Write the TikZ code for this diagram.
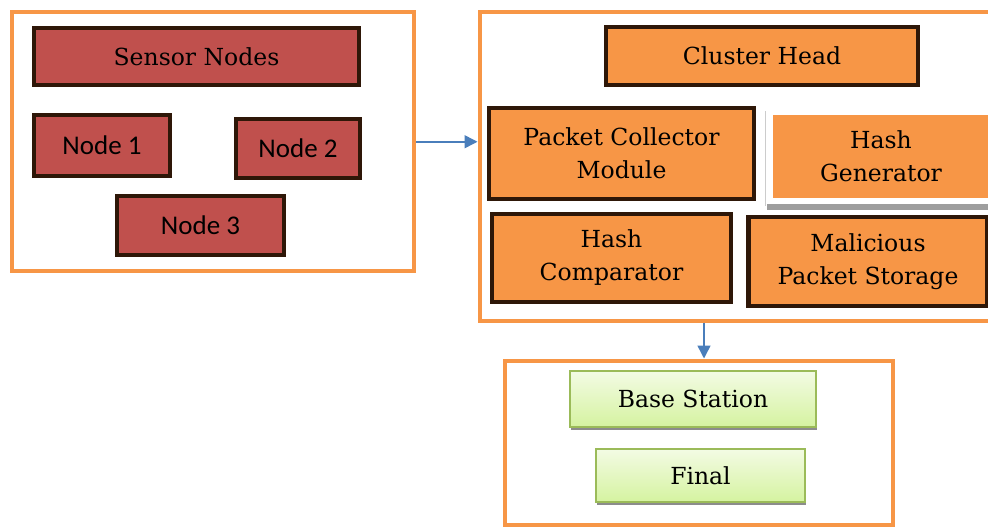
\documentclass[tikz,border=0pt]{standalone}
\usepackage{fontspec}
\newfontfamily\bkfont{DejaVu Serif}
\newfontfamily\calfont{Carlito}
\usetikzlibrary{arrows.meta,shadows}
\definecolor{orng}{HTML}{F79646}
\definecolor{redf}{HTML}{C0504D}
\definecolor{dbrown}{HTML}{2E1708}
\definecolor{arblue}{HTML}{4A7EBB}
\definecolor{grnb}{HTML}{9BBB59}
\definecolor{grnt}{HTML}{F3FBE4}
\definecolor{grnbt}{HTML}{D5F3A0}
\begin{document}
\begin{tikzpicture}[x=1pt,y=-1pt,
 frame/.style={draw=orng,line width=4pt,inner sep=0pt,fill=white},
 redbox/.style={draw=dbrown,line width=4.5pt,fill=redf,inner sep=0pt,font=\calfont\fontsize{27}{30}\selectfont},
 orbox/.style={draw=dbrown,line width=4.5pt,fill=orng,inner sep=0pt,align=center,font=\bkfont\fontsize{23.5}{33}\selectfont},
 plainor/.style={fill=orng,inner sep=0pt,align=center,font=\bkfont\fontsize{23.5}{33}\selectfont},
 grbox/.style={draw=grnb,line width=1.5pt,top color=grnt,bottom color=grnbt,inner sep=0pt,font=\bkfont\fontsize{23.5}{33}\selectfont,
   drop shadow={shadow xshift=1pt,shadow yshift=-3pt,fill=black!45,opacity=1}},
 conn/.style={draw=arblue,line width=1.5pt,-{Triangle[length=13pt,width=13pt]}}
]
\useasboundingbox (0,0) rectangle (988,527);
\clip (0,0) rectangle (988,527);
\fill[white] (0,0) rectangle (988,527);

% outer frames
\node[frame,minimum width=402pt,minimum height=258.5pt] (leftbox) at (213,141.75) {};
\node[frame,minimum width=540.5pt,minimum height=308pt] (rightbox) at (749.75,166.5) {};
\node[frame,minimum width=388.5pt,minimum height=164pt] (bottombox) at (698.75,442.5) {};

% sensor nodes
\node[redbox,minimum width=325pt,minimum height=57pt] (sensor) at (196.5,56.5) {\bkfont\fontsize{23.5}{33}\selectfont Sensor Nodes};
\node[redbox,minimum width=136pt,minimum height=61pt] (n1) at (102,145.5) {Node 1};
\node[redbox,minimum width=124pt,minimum height=59pt] (n2) at (298,148.5) {Node 2};
\node[redbox,minimum width=167pt,minimum height=59pt] (n3) at (200.5,225.5) {Node 3};

% cluster head part
\node[orbox,minimum width=312pt,minimum height=58pt] (ch) at (762,56) {Cluster Head};
\node[orbox,minimum width=265pt,minimum height=91pt] (pcm) at (621.5,153.5) {Packet Collector\\Module};
\fill[black!38] (767,204) rectangle (1010,210);
\draw[black!20,line width=0.8pt] (765.5,111) -- (765.5,206);
\node[plainor,minimum width=247pt,minimum height=83pt] (hg) at (896.5,156.5) {\hspace*{-31pt}Hash\\\hspace*{-31pt}Generator};
\node[orbox,minimum width=239pt,minimum height=88pt] (hc) at (611.5,258) {Hash\\Comparator};
\node[orbox,minimum width=239pt,minimum height=89pt] (mps) at (868,261.5) {Malicious\\Packet Storage};

% base station part
\node[grbox,minimum width=246pt,minimum height=56pt] (bs) at (693,399) {Base Station};
\node[grbox,minimum width=209pt,minimum height=53pt] (fin) at (700.5,475.5) {Final};

% connectors
\coordinate (cx) at (704,0);
\draw[conn] (leftbox.east) -- (leftbox.east -| rightbox.west);
\draw[conn] (rightbox.south -| cx) -- (bottombox.north -| cx);
\end{tikzpicture}
\end{document}
